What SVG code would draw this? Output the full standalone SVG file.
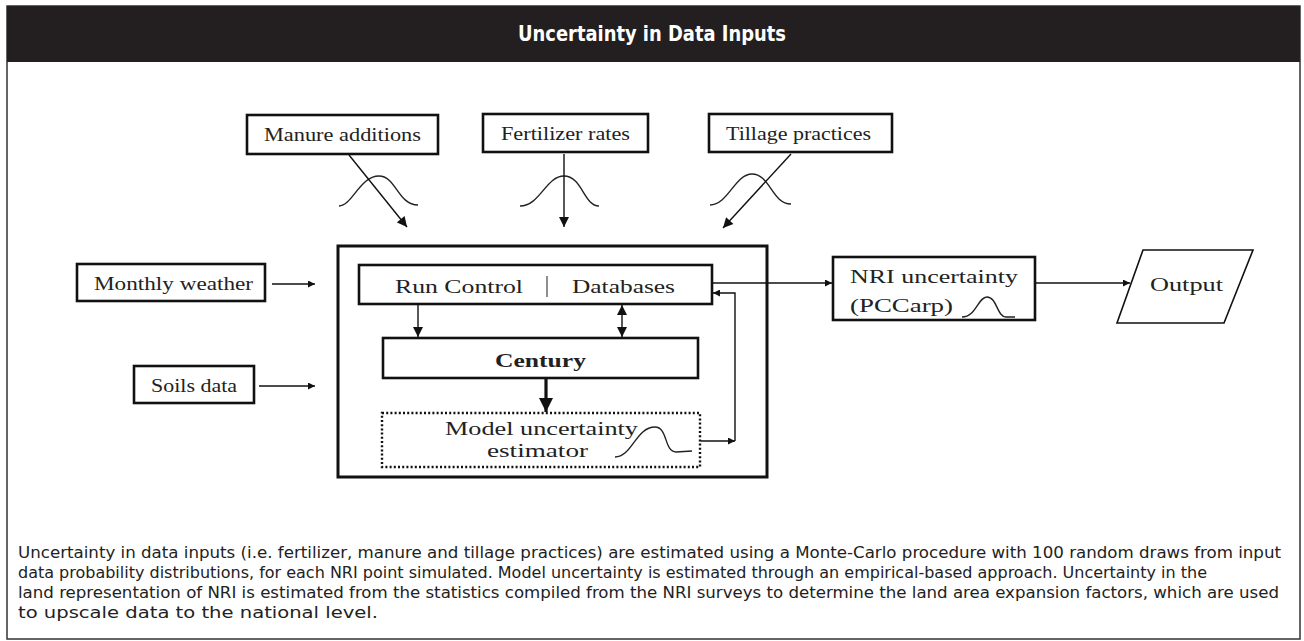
<svg xmlns="http://www.w3.org/2000/svg" width="1304" height="641" viewBox="0 0 1304 641">
<style>
.box{fill:#fff;stroke:#111;stroke-width:2.6}
.lbl{font-family:"Liberation Serif","Times New Roman",serif;font-size:19px;fill:#222}
.conn{fill:none;stroke:#111;stroke-width:1.4}
.bell{fill:none;stroke:#222;stroke-width:1.4}
.cap{font-family:"Liberation Sans Narrow","DejaVu Sans Condensed","Liberation Sans",sans-serif;font-stretch:condensed;font-size:15.5px;fill:#222}
</style>
<defs>
<marker id="ah" viewBox="0 0 10 10" refX="10" refY="5" markerWidth="7" markerHeight="7" markerUnits="userSpaceOnUse" orient="auto-start-reverse">
<path d="M0,0 L10,5 L0,10 z" fill="#111"/>
</marker>
<marker id="ahs" viewBox="0 0 10 10" refX="10" refY="5" markerWidth="11" markerHeight="10" markerUnits="userSpaceOnUse" orient="auto-start-reverse">
<path d="M0,0 L10,5 L0,10 z" fill="#111"/>
</marker>
<marker id="ahb" viewBox="0 0 10 10" refX="10" refY="5" markerWidth="14" markerHeight="14" markerUnits="userSpaceOnUse" orient="auto">
<path d="M0,0 L10,5 L0,10 z" fill="#111"/>
</marker>
</defs>
<rect x="7" y="6" width="1293" height="633" fill="#fff" stroke="#333" stroke-width="1.5"/>
<rect id="header" x="7" y="6" width="1293" height="56" fill="#231f20"/>
<text x="652" y="41" text-anchor="middle" font-family="Liberation Sans Narrow,DejaVu Sans Condensed,Liberation Sans,sans-serif" font-weight="bold" font-size="21" fill="#fff" textLength="268" lengthAdjust="spacingAndGlyphs">Uncertainty in Data Inputs</text>

<g id="manure">
<rect class="box" x="247" y="115" width="191" height="39"/>
<text class="lbl" x="264" y="141" textLength="157" lengthAdjust="spacingAndGlyphs">Manure additions</text>
<path class="bell" d="M339,206 C352,206 360,176 379,176 C396,176 398,205 418,205"/>
</g>
<g id="fertilizer">
<rect class="box" x="483" y="114" width="165" height="38"/>
<text class="lbl" x="501" y="140" textLength="129" lengthAdjust="spacingAndGlyphs">Fertilizer rates</text>
<path class="bell" d="M520,206 C540,206 546,176 564,176 C582,176 584,206 599,206"/>
</g>
<g id="tillage">
<rect class="box" x="709" y="114" width="183" height="38"/>
<text class="lbl" x="726" y="140" textLength="145" lengthAdjust="spacingAndGlyphs">Tillage practices</text>
<path class="bell" d="M710,205 C728,205 735,174 752,174 C770,174 772,204 791,204"/>
</g>
<g id="weather">
<rect class="box" x="77" y="264" width="188" height="37"/>
<text class="lbl" x="94" y="290" textLength="159" lengthAdjust="spacingAndGlyphs">Monthly weather</text>
</g>
<g id="soils">
<rect class="box" x="134" y="366" width="120" height="37"/>
<text class="lbl" x="151" y="392" textLength="86" lengthAdjust="spacingAndGlyphs">Soils data</text>
</g>
<g id="main">
<rect x="338" y="246" width="429" height="231" fill="none" stroke="#111" stroke-width="3"/>
</g>
<g id="runcontrol">
<rect class="box" x="359" y="265" width="353" height="39"/>
<text class="lbl" x="395" y="293" font-size="21" textLength="128" lengthAdjust="spacingAndGlyphs">Run Control</text>
<line x1="547" y1="276" x2="547" y2="297" stroke="#444" stroke-width="1.2"/>
<text class="lbl" x="572" y="293" font-size="21" textLength="103" lengthAdjust="spacingAndGlyphs">Databases</text>
</g>
<g id="century">
<rect class="box" x="383" y="338" width="315" height="40"/>
<text class="lbl" x="495" y="367" font-weight="bold" font-size="20" textLength="91" lengthAdjust="spacingAndGlyphs">Century</text>
</g>
<g id="model">
<rect x="382" y="413" width="318" height="54" fill="#fff" stroke="#111" stroke-width="2.4" stroke-dasharray="2,2.2"/>
<text class="lbl" x="445" y="435" font-size="21" textLength="193" lengthAdjust="spacingAndGlyphs">Model uncertainty</text>
<text class="lbl" x="487" y="457" font-size="21" textLength="101" lengthAdjust="spacingAndGlyphs">estimator</text>
<path class="bell" d="M615,457 C632,457 636,427 655,427 C668,427 664,452 676,452 L692,451"/>
</g>
<g id="nri">
<rect class="box" x="833" y="257" width="202" height="63"/>
<text class="lbl" x="850" y="283" font-size="21" textLength="168" lengthAdjust="spacingAndGlyphs">NRI uncertainty</text>
<text class="lbl" x="850" y="312" font-size="21" textLength="103" lengthAdjust="spacingAndGlyphs">(PCCarp)</text>
<path class="bell" d="M962,317 C976,317 978,297 987,297 C997,297 997,317 1006,317 L1015,317"/>
</g>
<g id="output">
<polygon points="1143,250 1253,250 1224,323 1117,323" fill="#fff" stroke="#111" stroke-width="1.6"/>
<text class="lbl" x="1150" y="291" font-size="21" textLength="73" lengthAdjust="spacingAndGlyphs">Output</text>
</g>

<g id="connectors">
<line class="conn" x1="349" y1="155" x2="407" y2="227" marker-end="url(#ahs)"/>
<line class="conn" x1="564" y1="154" x2="564" y2="227" marker-end="url(#ahs)"/>
<line class="conn" x1="791" y1="154" x2="723" y2="228" marker-end="url(#ahs)"/>
<line class="conn" x1="272" y1="284" x2="315" y2="284" marker-end="url(#ah)"/>
<line class="conn" x1="259" y1="386" x2="315" y2="386" marker-end="url(#ah)"/>
<line class="conn" x1="418" y1="304" x2="418" y2="337" marker-end="url(#ahs)"/>
<line class="conn" x1="622" y1="305" x2="622" y2="337" marker-start="url(#ahs)" marker-end="url(#ahs)"/>
<line x1="546" y1="379" x2="546" y2="412" stroke="#111" stroke-width="3.2" marker-end="url(#ahb)"/>
<line class="conn" x1="701" y1="441" x2="735" y2="441" marker-end="url(#ah)"/>
<polyline class="conn" points="735,441 735,293 713,293" marker-end="url(#ah)"/>
<line class="conn" x1="713" y1="283" x2="832" y2="283" marker-end="url(#ah)"/>
<line class="conn" x1="1036" y1="283" x2="1130" y2="283" marker-end="url(#ah)"/>
</g>

<g id="caption">
<text class="cap" x="18" y="558" textLength="1263" lengthAdjust="spacingAndGlyphs">Uncertainty in data inputs (i.e. fertilizer, manure and tillage practices) are estimated using a Monte-Carlo procedure with 100 random draws from input</text>
<text class="cap" x="18" y="578" textLength="1189" lengthAdjust="spacingAndGlyphs">data probability distributions, for each NRI point simulated.  Model uncertainty is estimated through an empirical-based approach.  Uncertainty in the</text>
<text class="cap" x="18" y="598" textLength="1261" lengthAdjust="spacingAndGlyphs">land representation of NRI is estimated from the statistics compiled from the NRI surveys to determine the land area expansion factors, which are used</text>
<text class="cap" x="18" y="618" textLength="360" lengthAdjust="spacingAndGlyphs">to upscale data to the national level.</text>
</g>
</svg>
